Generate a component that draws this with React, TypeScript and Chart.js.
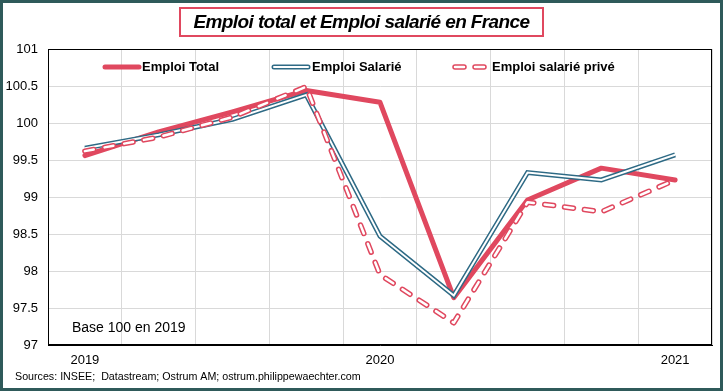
import React, { useEffect, useRef } from "react";
import { Chart, registerables } from "chart.js";

Chart.register(...registerables);

const quarters = ["2019T1", "2019T2", "2019T3", "2019T4", "2020T1", "2020T2", "2020T3", "2020T4", "2021T1"];
const xTickLabels = ["2019", "", "", "", "2020", "", "", "", "2021"];
const emploiTotal = [99.56, 99.88, 100.15, 100.44, 100.28, 97.64, 98.96, 99.39, 99.23];
const emploiSalarie = [99.66, 99.84, 100.05, 100.38, 98.47, 97.67, 99.33, 99.23, 99.57];
const emploiPrive = [99.62, 99.81, 100.08, 100.49, 97.95, 97.3, 98.93, 98.8, 99.23];

const titleText = "Emploi total et Emploi salarié en France";
const legendLabels = ["Emploi Total", "Emploi Salarié", "Emploi salarié privé"];
const baseText = "Base 100 en 2019";
const sourceText = "Sources: INSEE;  Datastream; Ostrum AM; ostrum.philippewaechter.com";

const RED = "#E0485F";
const TEAL = "#2E6A85";
const BORDER = "#2F5A5A";
const GRID = "#D9D9D9";
const DASH = [9, 11];
const FONT = "'Liberation Sans', Arial, sans-serif";

const decorPlugin = {
  id: "decor",
  beforeDraw(chart: any) {
    const ctx = chart.ctx;
    ctx.save();
    ctx.fillStyle = "#ffffff";
    ctx.fillRect(0, 0, chart.width, chart.height);
    ctx.restore();
  },
  afterDatasetsDraw(chart: any) {
    const ctx = chart.ctx;
    const a = chart.chartArea;
    ctx.save();
    // plot frame
    ctx.strokeStyle = "#000000";
    ctx.lineWidth = 1;
    ctx.strokeRect(a.left + 0.5, a.top + 0.5, a.right - a.left - 1, a.bottom - a.top - 1);

    // legend
    const ly = 67;
    ctx.lineCap = "round";
    ctx.strokeStyle = RED;
    ctx.lineWidth = 5;
    ctx.beginPath();
    ctx.moveTo(105, ly);
    ctx.lineTo(139, ly);
    ctx.stroke();
    ctx.strokeStyle = TEAL;
    ctx.lineWidth = 5;
    ctx.beginPath();
    ctx.moveTo(274, ly);
    ctx.lineTo(308, ly);
    ctx.stroke();
    ctx.strokeStyle = "#ffffff";
    ctx.lineWidth = 2;
    ctx.beginPath();
    ctx.moveTo(274, ly);
    ctx.lineTo(308, ly);
    ctx.stroke();
    for (const [x0, x1] of [[455, 464], [475, 484]]) {
      ctx.strokeStyle = RED;
      ctx.lineWidth = 5.5;
      ctx.beginPath();
      ctx.moveTo(x0, ly);
      ctx.lineTo(x1, ly);
      ctx.stroke();
      ctx.strokeStyle = "#ffffff";
      ctx.lineWidth = 2.5;
      ctx.beginPath();
      ctx.moveTo(x0, ly);
      ctx.lineTo(x1, ly);
      ctx.stroke();
    }
    ctx.fillStyle = "#000000";
    ctx.font = `bold 13px ${FONT}`;
    ctx.textBaseline = "middle";
    ctx.textAlign = "left";
    ctx.fillText(legendLabels[0], 142, ly);
    ctx.fillText(legendLabels[1], 312, ly);
    ctx.fillText(legendLabels[2], 492, ly);

    ctx.font = `14px ${FONT}`;
    ctx.fillText(baseText, 72, 328);

    ctx.font = `10.7px ${FONT}`;
    ctx.fillText(sourceText, 15, 377);

    // title box
    ctx.fillStyle = "#ffffff";
    ctx.fillRect(180, 8, 363, 28);
    ctx.strokeStyle = RED;
    ctx.lineWidth = 2;
    ctx.strokeRect(180, 8, 363, 28);
    ctx.fillStyle = "#000000";
    ctx.font = `italic bold 19px ${FONT}`;
    ctx.textAlign = "center";
    (ctx as any).letterSpacing = "-0.6px";
    ctx.fillText(titleText, 361.5, 22.5);
    (ctx as any).letterSpacing = "0px";

    // outer border
    ctx.strokeStyle = BORDER;
    ctx.lineWidth = 3;
    ctx.strokeRect(1.5, 1.5, chart.width - 3, chart.height - 3);
    ctx.restore();
  },
};

export default function App() {
  const ref = useRef<HTMLCanvasElement | null>(null);

  useEffect(() => {
    if (!ref.current) return;
    const chart = new Chart(ref.current, {
      type: "line",
      data: {
        labels: quarters,
        datasets: [
          {
            label: legendLabels[0],
            data: emploiTotal,
            borderColor: RED,
            borderWidth: 5,
            pointRadius: 0,
            tension: 0,
            borderJoinStyle: "round",
            borderCapStyle: "round",
            order: 5,
          },
          {
            label: legendLabels[1],
            data: emploiSalarie,
            borderColor: TEAL,
            borderWidth: 5,
            pointRadius: 0,
            tension: 0,
            borderJoinStyle: "miter",
            order: 4,
          },
          {
            label: legendLabels[1] + " (intérieur)",
            data: emploiSalarie,
            borderColor: "#ffffff",
            borderWidth: 2,
            pointRadius: 0,
            tension: 0,
            borderJoinStyle: "miter",
            order: 3,
          },
          {
            label: legendLabels[2],
            data: emploiPrive,
            borderColor: RED,
            borderWidth: 5.5,
            borderDash: DASH,
            borderCapStyle: "round",
            borderJoinStyle: "round",
            pointRadius: 0,
            tension: 0,
            order: 2,
          },
          {
            label: legendLabels[2] + " (intérieur)",
            data: emploiPrive,
            borderColor: "#ffffff",
            borderWidth: 2.5,
            borderDash: DASH,
            borderCapStyle: "round",
            borderJoinStyle: "round",
            pointRadius: 0,
            tension: 0,
            order: 1,
          },
        ],
      },
      options: {
        animation: false,
        responsive: false,
        devicePixelRatio: 1,
        layout: { padding: { left: 0, right: 11, top: 49, bottom: 0 } },
        plugins: {
          legend: { display: false },
          title: { display: false },
          tooltip: { enabled: false },
        },
        scales: {
          x: {
            type: "category",
            offset: true,
            grid: { offset: true, color: GRID, drawTicks: false, lineWidth: 1 },
            border: { color: "#000000" },
            ticks: {
              autoSkip: false,
              maxRotation: 0,
              padding: 8,
              color: "#000000",
              font: { family: FONT, size: 13 },
              callback: (_v: any, i: number) => xTickLabels[i],
            },
            afterFit: (s: any) => {
              s.height = 46;
            },
          },
          y: {
            min: 97,
            max: 101,
            grid: { color: GRID, drawTicks: false, lineWidth: 1 },
            border: { color: "#000000" },
            ticks: {
              stepSize: 0.5,
              padding: 10,
              color: "#000000",
              font: { family: FONT, size: 13 },
              callback: (v: any) => String(v),
            },
            afterFit: (s: any) => {
              s.width = 48;
            },
          },
        },
      },
      plugins: [decorPlugin],
    });
    return () => chart.destroy();
  }, []);

  return (
    <div style={{ position: "absolute", left: 0, top: 0, width: 723, height: 391 }}>
      <canvas ref={ref} width={723} height={391} />
    </div>
  );
}
